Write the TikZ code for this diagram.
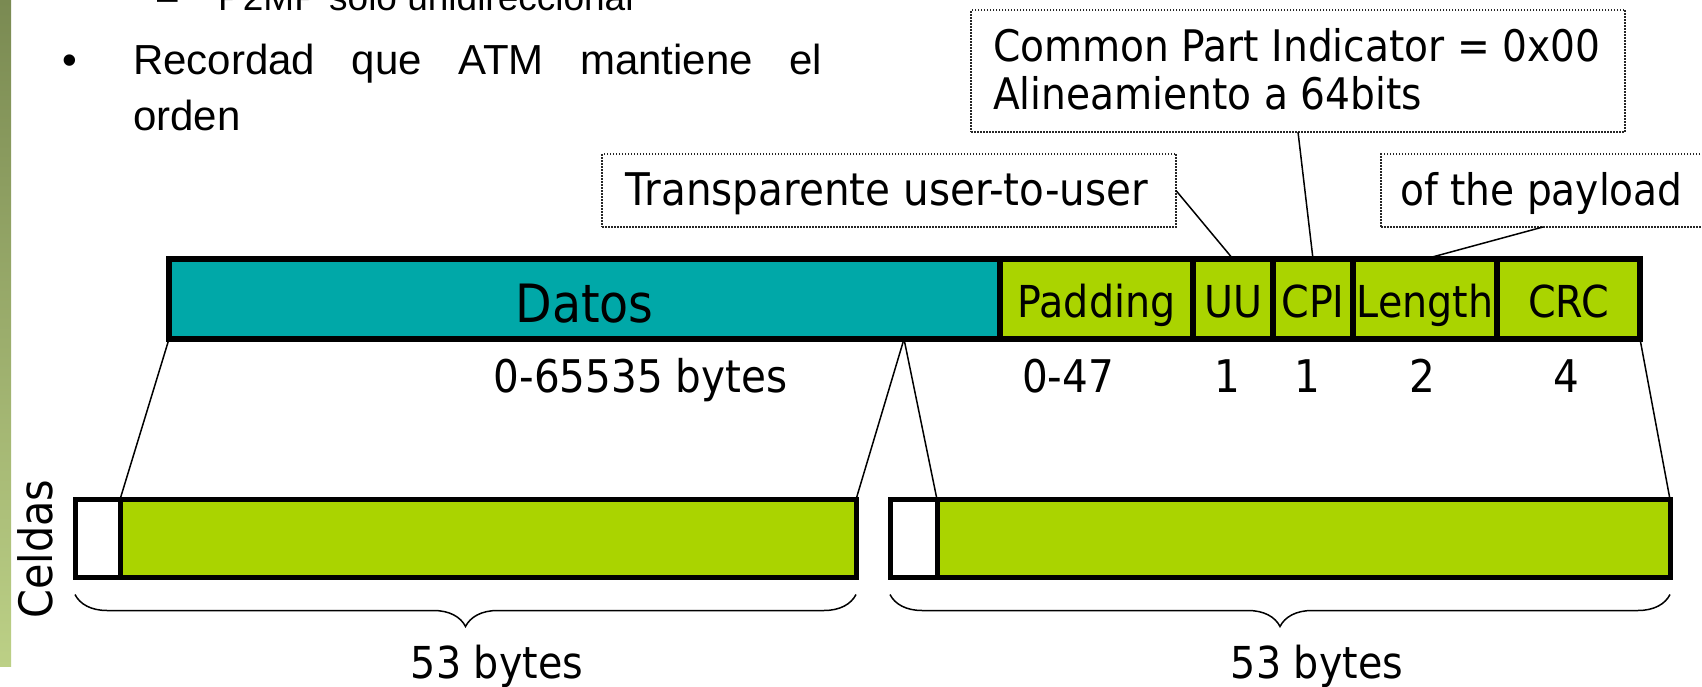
\documentclass[tikz,border=0pt]{standalone}
\usepackage{fontspec}
\usetikzlibrary{decorations.pathreplacing}
\newfontfamily\arialf{Liberation Sans}
\newfontfamily\comicf[FakeStretch=0.9]{DejaVu Sans}
\definecolor{tealc}{RGB}{0,168,168}
\definecolor{greenc}{RGB}{170,212,0}
\definecolor{striptop}{RGB}{122,138,82}
\definecolor{stripbot}{RGB}{188,208,134}
\begin{document}
\begin{tikzpicture}[x=1pt,y=-1pt,
  field/.style={draw=black, line width=6pt, minimum height=80pt, inner sep=0pt, outer sep=0pt},
  cellbox/.style={draw=black, line width=5pt, minimum height=78pt, inner sep=0pt, outer sep=0pt},
  callout/.style={draw=black!85, line width=1.5pt, dash pattern=on 1.5pt off 1.5pt, inner sep=0pt, outer sep=0pt},
  conn/.style={draw=black, line width=1.5pt},
  lbl/.style={font=\comicf\fontsize{44}{50}\selectfont, inner sep=0pt, anchor=base},
  numlbl/.style={font=\comicf\fontsize{45}{50}\selectfont, inner sep=0pt, anchor=base},
  calltext/.style={font=\comicf\fontsize{43.5}{50}\selectfont, inner sep=0pt},
  bodytext/.style={font=\arialf\fontsize{42}{50}\selectfont, inner sep=0pt, anchor=base west},
  subtext/.style={font=\arialf\fontsize{37}{44}\selectfont, inner sep=0pt, anchor=base west},
  bracestyle/.style={draw=black, line width=1.5pt, decorate, decoration={brace, amplitude=32pt, mirror}}
]
\useasboundingbox (0,0) rectangle (1702,687);
\fill[white] (0,0) rectangle (1702,687);
% left strip
\shade[top color=striptop, bottom color=stripbot] (0,0) rectangle (11,666);

% slide text (top line cut off by the page edge, as in the reference)
\node[subtext] (dash) at (157,11) {–};
\node[subtext] (sub) at (218,11) {P2MP solo unidireccional};
\node[bodytext] (bullet) at (62,75) {•};
\node[bodytext] (line1) at (133,75) {\makebox[689pt][s]{Recordad\hfill que\hfill ATM\hfill mantiene\hfill el}};
\node[bodytext] (line2) at (133,131) {orden};

% top bar
\node[field, fill=tealc, minimum width=831pt] (datos) at (584.5,299) {};
\node[field, fill=greenc, minimum width=193pt] (padding) at (1096.5,299) {};
\node[field, fill=greenc, minimum width=80pt] (uu) at (1233,299) {};
\node[field, fill=greenc, minimum width=80pt] (cpi) at (1313,299) {};
\node[field, fill=greenc, minimum width=144pt] (length) at (1425,299) {};
\node[field, fill=greenc, minimum width=143pt] (crc) at (1568.5,299) {};

\node[lbl, font=\comicf\fontsize{52.8}{60}\selectfont] (datosL) at (584.5,322) {Datos};
\node[lbl] (paddingL) at (1096.5,317) {Padding};
\node[lbl] (uuL) at (1233,317) {UU};
\node[lbl] (cpiL) at (1313,317) {CPI};
\node[lbl] (lengthL) at (1425,317) {Length};
\node[lbl] (crcL) at (1568.5,317) {CRC};

% sizes
\node[numlbl] (szdatos) at (640.5,392) {0-65535 bytes};
\node[numlbl] (szpad) at (1068,392) {0-47};
\node[numlbl] (szuu) at (1227,392) {1};
\node[numlbl] (szcpi) at (1307,392) {1};
\node[numlbl] (szlen) at (1422,392) {2};
\node[numlbl] (szcrc) at (1566,392) {4};

% callouts
\node[callout, minimum width=654pt, minimum height=122pt] (cpibox) at (1298,71) {};
\node[calltext, anchor=base west] (cpit1) at (993,62) {Common Part Indicator = 0x00};
\node[calltext, anchor=base west] (cpit2) at (993,110) {Alineamiento a 64bits};
\node[callout, minimum width=574pt, minimum height=73pt] (ttbox) at (889,190.5) {};
\node[calltext, anchor=base, font=\comicf\fontsize{45}{50}\selectfont] (ttt) at (887,205) {Transparente user-to-user};
\node[callout, minimum width=324pt, minimum height=73pt] (plbox) at (1543,190.5) {};
\node[calltext, anchor=base west] (plt) at (1400,205) {of the payload};

\draw[conn] (ttbox.east) -- (uu.north);
\draw[conn] (cpibox.south) -- (cpi.north);
\draw[conn] (plbox.south) -- (length.north);

% cells
\node[cellbox, fill=white, minimum width=45pt] (c1h) at (97.5,538.5) {};
\node[cellbox, fill=greenc, minimum width=736pt] (c1g) at (488,538.5) {};
\node[cellbox, fill=white, minimum width=47pt] (c2h) at (913.5,538.5) {};
\node[cellbox, fill=greenc, minimum width=733pt] (c2g) at (1303.5,538.5) {};

\coordinate (split) at (904,339);
\draw[conn] (datos.south west) -- (c1g.north west);
\draw[conn] (split) -- (c1g.north east);
\draw[conn] (split) -- (c2g.north west);
\draw[conn] (crc.south east) -- (c2g.north east);

% braces
\draw[bracestyle] ([yshift=-17pt]c1h.south west) -- ([yshift=-17pt]c1g.south east);
\draw[bracestyle] ([yshift=-17pt]c2h.south west) -- ([yshift=-17pt]c2g.south east);
\node[lbl] (b1) at (497,678) {53 bytes};
\node[lbl] (b2) at (1317,678) {53 bytes};

\node[lbl, font=\comicf\fontsize{46}{50}\selectfont, rotate=90] (celdas) at (52,549) {Celdas};
\end{tikzpicture}
\end{document}
